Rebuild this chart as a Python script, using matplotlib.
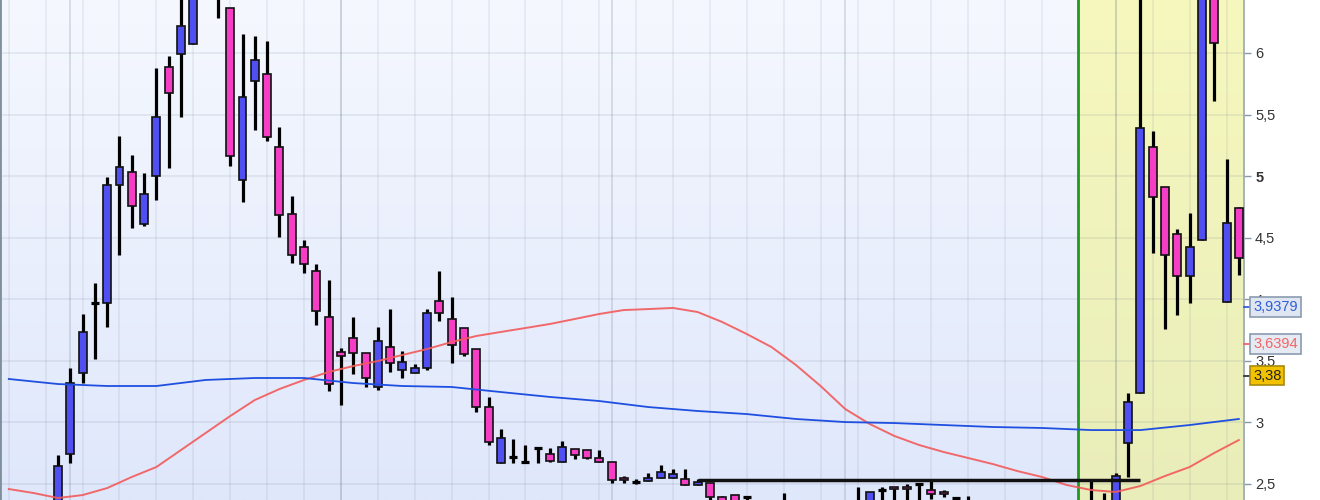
import numpy as np
import matplotlib.pyplot as plt
from matplotlib.colors import LinearSegmentedColormap

plt.rcParams['font.family'] = ['Liberation Sans', 'DejaVu Sans']

# daily candles, one per trading day (index 0..100)
opens = [2.30, 2.26, 2.24, 2.28, 2.31, 2.742, 3.40, 3.969, 3.969, 4.928,
         5.033, 4.611, 5.001, 5.886, 5.992, 6.073, 6.55, 6.80, 6.366, 4.968,
         5.773, 5.829, 5.236, 4.692, 4.424, 4.229, 3.855, 3.571, 3.685, 3.563,
         3.287, 3.612, 3.425, 3.40, 3.441, 3.985, 3.839, 3.766, 3.595, 3.124,
         2.669, 2.718, 2.678, 2.791, 2.742, 2.678, 2.783, 2.775, 2.71, 2.677,
         2.547, 2.515, 2.523, 2.548, 2.548, 2.539, 2.491, 2.507, 2.393, 2.409,
         2.395, 2.34, 2.30, 2.30, 2.32, 2.27, 2.25, 2.28, 2.30, 2.33,
         2.30, 2.45, 2.474, 2.474, 2.499, 2.45, 2.434, 2.385, 2.36, 2.34,
         2.30, 2.28, 2.26, 2.27, 2.29, 2.31, 2.30, 2.32, 2.33, 2.30,
         2.33, 2.832, 3.238, 5.236, 4.911, 4.53, 4.188, 4.481, 6.60, 3.977,
         4.741]
highs = [2.34, 2.32, 2.30, 2.33, 2.734, 3.441, 3.88, 4.132, 4.993, 5.326,
         5.171, 5.025, 5.878, 5.976, 6.55, 6.75, 6.90, 6.92, 6.366, 6.154,
         6.138, 6.097, 5.399, 4.838, 4.481, 4.286, 4.156, 3.604, 3.855, 3.563,
         3.774, 3.92, 3.579, 3.474, 3.92, 4.229, 4.018, 3.766, 3.595, 3.206,
         2.946, 2.864, 2.816, 2.791, 2.791, 2.848, 2.783, 2.775, 2.775, 2.677,
         2.564, 2.54, 2.588, 2.653, 2.62, 2.62, 2.539, 2.507, 2.40, 2.409,
         2.395, 2.36, 2.34, 2.426, 2.35, 2.30, 2.30, 2.33, 2.35, 2.474,
         2.434, 2.474, 2.474, 2.499, 2.499, 2.531, 2.45, 2.393, 2.401, 2.36,
         2.33, 2.31, 2.30, 2.31, 2.33, 2.34, 2.34, 2.35, 2.531, 2.426,
         2.588, 3.238, 6.60, 5.366, 4.911, 4.57, 4.70, 6.70, 6.70, 5.139,
         4.75]
lows = [2.22, 2.20, 2.18, 2.20, 2.28, 2.669, 3.319, 3.514, 3.774, 4.359,
        4.578, 4.595, 4.806, 5.066, 5.48, 6.073, 6.48, 6.284, 5.082, 4.79,
        5.374, 5.285, 4.505, 4.294, 4.213, 3.79, 3.254, 3.141, 3.392, 3.287,
        3.262, 3.409, 3.36, 3.40, 3.425, 3.823, 3.482, 3.539, 3.084, 2.816,
        2.669, 2.669, 2.678, 2.669, 2.678, 2.678, 2.702, 2.70, 2.677, 2.507,
        2.507, 2.499, 2.523, 2.548, 2.548, 2.491, 2.491, 2.37, 2.28, 2.30,
        2.32, 2.26, 2.24, 2.26, 2.25, 2.20, 2.20, 2.24, 2.26, 2.30,
        2.28, 2.35, 2.36, 2.36, 2.36, 2.38, 2.39, 2.35, 2.30, 2.28,
        2.25, 2.24, 2.22, 2.23, 2.25, 2.27, 2.26, 2.28, 2.28, 2.26,
        2.30, 2.556, 3.238, 4.375, 3.758, 3.872, 3.969, 4.481, 5.61, 3.977,
        4.197]
closes = [2.26, 2.24, 2.28, 2.31, 2.645, 3.319, 3.734, 3.969, 4.928, 5.074,
          4.757, 4.855, 5.48, 5.675, 6.219, 6.60, 6.80, 6.50, 5.163, 5.643,
          5.943, 5.318, 4.684, 4.359, 4.286, 3.904, 3.311, 3.539, 3.563, 3.36,
          3.66, 3.482, 3.49, 3.441, 3.888, 3.888, 3.628, 3.555, 3.124, 2.84,
          2.872, 2.718, 2.678, 2.791, 2.686, 2.80, 2.734, 2.71, 2.677, 2.531,
          2.531, 2.515, 2.548, 2.596, 2.58, 2.491, 2.515, 2.393, 2.30, 2.35,
          2.395, 2.30, 2.28, 2.34, 2.27, 2.25, 2.28, 2.30, 2.33, 2.36,
          2.434, 2.45, 2.458, 2.458, 2.499, 2.418, 2.418, 2.385, 2.34, 2.30,
          2.28, 2.26, 2.27, 2.29, 2.31, 2.30, 2.32, 2.33, 2.30, 2.34,
          2.564, 3.165, 5.391, 4.83, 4.359, 4.188, 4.424, 6.60, 6.081, 4.619,
          4.335]

# moving averages (red sampled every 2 days, blue every 4 days)
red_days = list(range(0, 101, 2))
ma_red = [2.458, 2.426, 2.385, 2.409, 2.466, 2.556, 2.637, 2.775, 2.913, 3.051,
          3.181, 3.27, 3.344, 3.409, 3.457, 3.498, 3.547, 3.595, 3.652, 3.701,
          3.734, 3.766, 3.799, 3.839, 3.88, 3.912, 3.92, 3.929, 3.896, 3.815,
          3.717, 3.612, 3.465, 3.295, 3.108, 2.986, 2.889, 2.816, 2.759, 2.71,
          2.661, 2.604, 2.556, 2.491, 2.45, 2.434, 2.483, 2.564, 2.637, 2.751,
          2.856]
blue_days = list(range(0, 101, 4))
ma_blue = [3.352, 3.311, 3.295, 3.295, 3.344, 3.36, 3.36, 3.319, 3.295, 3.287,
           3.246, 3.206, 3.173, 3.124, 3.092, 3.067, 3.027, 3.002, 2.994, 2.978,
           2.962, 2.954, 2.937, 2.937, 2.978, 3.027]

level = 2.535
level_days = [56, 92]
zone_start = 86.9
month_days = [5, 27, 49, 68, 90]

tick_vals = [2.5, 3, 3.5, 4, 4.5, 5, 5.5, 6]
tick_text = ['2,5', '3', '3,5', '4', '4,5', '5', '5,5', '6']

tag_vals = [3.9379, 3.6394, 3.38]
tag_text = ['3,9379', '3,6394', '3,38']

W, H = 1320, 500
fig = plt.figure(figsize=(W / 100, H / 100), dpi=100)
ax = fig.add_axes([0, 0, 1244 / W, 1])
x0, x1 = -0.715, 100.42
y0, y1 = 2.369, 6.4305

grad = np.linspace(0, 1, 256).reshape(-1, 1)
bg = LinearSegmentedColormap.from_list('bg', ['#dfe7fb', '#f5f8fe'])
ax.imshow(grad, extent=[x0, x1, y0, y1], origin='lower', aspect='auto', cmap=bg, zorder=0)
yel = LinearSegmentedColormap.from_list('yel', ['#e9edb9', '#f6f8be'])
ax.imshow(grad, extent=[zone_start, x1, y0, y1], origin='lower', aspect='auto', cmap=yel, zorder=0.5)

# grid
for v in tick_vals:
    ax.axhline(v, color=(0.35, 0.4, 0.5, 0.12), lw=1.2, zorder=1)
for d in range(0, 101, 3):
    ax.axvline(d, color=(0.35, 0.4, 0.5, 0.10), lw=1.2, zorder=1)
for d in month_days:
    ax.axvline(d, color=(0.3, 0.35, 0.45, 0.18), lw=1.3, zorder=1)

ax.axvline(zone_start, color='#1f9a1f', lw=2, zorder=2)

# candles
bw = 0.65
for i in range(len(opens)):
    o, h, l, c = opens[i], highs[i], lows[i], closes[i]
    ax.vlines(i, l, h, color='black', lw=2.3, zorder=4)
    if abs(c - o) < 1e-6:
        ax.hlines(o, i - bw / 2, i + bw / 2, color='black', lw=2.3, zorder=5)
        continue
    col = '#4f4ff2' if c > o else '#f53dc6'
    ax.bar(i, abs(c - o), bw, bottom=min(o, c), color=col, edgecolor='#111111',
           linewidth=1.2, zorder=5)

ax.plot(red_days, ma_red, color='#f25a5a', lw=1.4, alpha=0.9, zorder=6)
ax.plot(blue_days, ma_blue, color='#1f4fe0', lw=1.3, zorder=6)
ax.hlines(level, level_days[0], level_days[1], color='#111111', lw=2.5, zorder=7)

ax.set_xlim(x0, x1)
ax.set_ylim(y0, y1)
ax.set_xticks([])
ax.yaxis.tick_right()
ax.set_yticks(tick_vals, tick_text)
ax.tick_params(axis='y', length=5, width=1, color='#8a99aa', labelsize=10.5,
               labelcolor='#333333', pad=3)
for lab in ax.get_yticklabels():
    if lab.get_text() == '5':
        lab.set_fontweight('bold')
for s in ['top', 'bottom']:
    ax.spines[s].set_visible(False)
ax.spines['left'].set_color('#7f8f9c')
ax.spines['left'].set_linewidth(2)
ax.spines['right'].set_color('#9aa9b6')
ax.spines['right'].set_linewidth(1.2)

# price tags on the right axis
tag_face = ['#dfe6f1', '#e6eaf2', '#f2c200']
tag_edge = ['#8b9bb0', '#8b9bb0', '#a88a10']
tag_col = ['#2f5fd8', '#f06666', '#222222']
tag_tick = ['#2f5fd8', '#f06666', '#333333']
tr = ax.get_yaxis_transform()
for v, t, fc, ec, tc, kc in zip(tag_vals, tag_text, tag_face, tag_edge, tag_col, tag_tick):
    ax.plot([1.0, 1.005], [v, v], color=kc, lw=1.3, transform=tr, clip_on=False, zorder=8)
    ax.text(1253 / 1244, v, t, transform=tr, ha='left', va='center', fontsize=10.5, color=tc,
            bbox=dict(boxstyle='square,pad=0.2', fc=fc, ec=ec, lw=1.2), clip_on=False, zorder=9)

fig.savefig('out.png', dpi=100)
